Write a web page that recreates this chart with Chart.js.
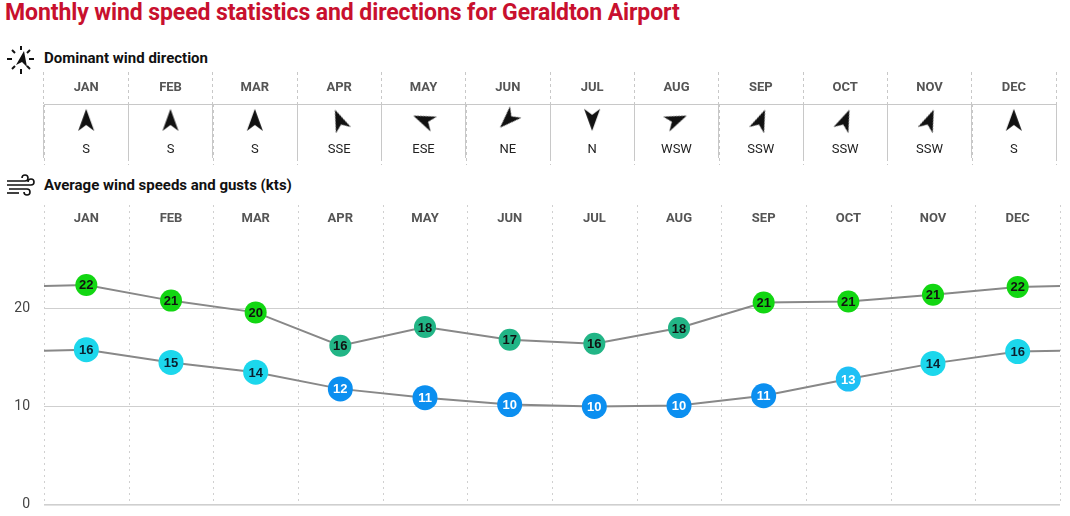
<!DOCTYPE html>
<html><head><meta charset="utf-8">
<script src="https://cdn.jsdelivr.net/npm/chart.js@4"></script>
<style>
body{margin:0;width:1070px;height:516px;background:#fff;font-family:Roboto,"Liberation Sans",sans-serif;position:relative;overflow:hidden}
.t{position:absolute;left:5px;top:-1px;font-size:23px;font-weight:bold;color:#c8102e;font-family:"Roboto",sans-serif;letter-spacing:-0.1px}
.h{position:absolute;left:44px;font-size:15px;font-weight:bold;color:#111}
.ic{position:absolute;left:5px}
canvas{position:absolute;left:0}
</style></head><body>
<div class="t">Monthly wind speed statistics and directions for Geraldton Airport</div>
<svg class="ic" style="top:45px" width="32" height="30" viewBox="0 0 32 30"><g stroke="#111" stroke-width="2"><line x1="2" y1="14" x2="7" y2="14"/><line x1="24" y1="14" x2="29" y2="14"/><line x1="16" y1="1" x2="16" y2="5"/><line x1="16" y1="24" x2="16" y2="29"/><line x1="7" y1="5" x2="10" y2="8"/><line x1="25" y1="5" x2="22" y2="8"/><line x1="7" y1="24" x2="10" y2="21"/><line x1="25" y1="24" x2="22" y2="21"/></g><path d="M19 6 L22 22 L17 17 L11 20 Z" fill="#111"/></svg>
<div class="h" style="top:49px">Dominant wind direction</div>
<svg class="ic" style="top:174px" width="32" height="24" viewBox="0 0 32 24"><g stroke="#111" stroke-width="1.6" fill="none"><path d="M2 7 H20 A3 3 0 1 0 17 4"/><path d="M2 11 H26 A3 3 0 1 0 23 8"/><path d="M4 15 H22 A3 3 0 1 1 19 18"/><path d="M2 19 H14"/></g></svg>
<div class="h" style="top:176px">Average wind speeds and gusts (kts)</div>
<canvas id="dir" style="top:72px" width="1070" height="100"></canvas>
<canvas id="main" style="top:195px" width="1070" height="332"></canvas>
<script>
const months=["JAN","FEB","MAR","APR","MAY","JUN","JUL","AUG","SEP","OCT","NOV","DEC"];
const dirLabels=["S","S","S","SSE","ESE","NE","N","WSW","SSW","SSW","SSW","S"];
const dirDegrees=[180,180,180,157.5,112.5,45,0,247.5,202.5,202.5,202.5,180];
const gustValues=[22.4,20.8,19.6,16.2,18.1,16.8,16.4,18.0,20.6,20.7,21.4,22.2];
const avgValues=[15.8,14.5,13.5,11.8,10.9,10.2,10.0,10.1,11.1,12.8,14.4,15.6];
const yTicks=[0,10,20];

function gustColor(v){return Math.round(v)>=19?'#12d612':'#22b586';}
function avgColor(v){const r=Math.round(v);return r>=14?'#1cd7ec':(r>=13?'#1ec0f5':'#0b8ff0');}
function avgText(v){return Math.round(v)>=14?'#0b2030':'#fff';}
const monthFont='bold 13px Roboto';

const arrow=document.createElement('canvas');arrow.width=26;arrow.height=26;
{const c=arrow.getContext('2d');c.fillStyle='#111';c.beginPath();c.moveTo(13,2);c.lineTo(21,24);c.lineTo(13,18);c.lineTo(5,24);c.closePath();c.fill();}

new Chart(document.getElementById('dir'),{
 type:'scatter',
 data:{labels:months,datasets:[{data:months.map((m,i)=>({x:m,y:20})),pointStyle:arrow,pointRadius:13,pointRotation:dirDegrees.map(d=>(d+180)%360)}]},
 options:{responsive:false,animation:false,layout:{padding:{left:44,right:10,bottom:0,top:0}},
  plugins:{legend:{display:false},tooltip:{enabled:false}},
  scales:{
   x:{type:'category',labels:months,position:'top',offset:true,
      grid:{offset:true,color:'#c8c8c8',tickLength:32,tickBorderDash:[3,3]},
      border:{display:true,color:'#c8c8c8'},
      ticks:{color:'#555',font:{size:13,weight:'bold',family:'Roboto'},padding:-24},
      afterFit:s=>{s.height=32}},
   y:{display:false,min:0,max:68,reverse:true}}
 },
 plugins:[{id:'dl',beforeDatasetsDraw(ch){const c=ch.ctx,a=ch.chartArea,xs=ch.scales.x;c.save();c.strokeStyle='#c8c8c8';c.setLineDash([3,3]);
   for(let i=0;i<=12;i++){const x=Math.round(xs.getPixelForValue(i-0.5))+0.5;c.beginPath();c.moveTo(x,a.top);c.lineTo(x,93);c.stroke();}c.restore();},
  afterDatasetsDraw(ch){const c=ch.ctx,xs=ch.scales.x,ys=ch.scales.y;c.save();c.font='13px Roboto';c.fillStyle='#222';c.textAlign='center';c.textBaseline='middle';
  dirLabels.forEach((t,i)=>c.fillText(t,xs.getPixelForValue(i),ys.getPixelForValue(58)));c.restore();}}]
});

const line=(vals)=>[{x:-1,y:vals[11]},...vals.map((v,i)=>({x:i,y:v})),{x:12,y:vals[0]}];
const rad=(r)=>c=>(c.dataIndex==0||c.dataIndex==13)?0:r;
new Chart(document.getElementById('main'),{
 type:'line',
 data:{datasets:[
  {data:line(gustValues),borderColor:'#888',borderWidth:2,pointRadius:rad(11),pointBorderWidth:0,
   pointBackgroundColor:c=>gustColor(c.raw?c.raw.y:0)},
  {data:line(avgValues),borderColor:'#888',borderWidth:2,pointRadius:rad(12.5),pointBorderWidth:0,
   pointBackgroundColor:c=>avgColor(c.raw?c.raw.y:0)}]},
 options:{responsive:false,animation:false,layout:{padding:{left:0,right:10,bottom:9,top:35}},
  plugins:{legend:{display:false},tooltip:{enabled:false}},
  scales:{
   x:{type:'linear',min:-0.5,max:11.5,display:false},
   y:{min:0,max:28,position:'left',
      afterBuildTicks:s=>{s.ticks=yTicks.map(v=>({value:v}))},
      grid:{color:'#cfcfcf',drawTicks:false},border:{display:false},
      ticks:{color:'#444',font:{size:14,family:'Roboto'},padding:14},
      afterFit:s=>{s.width=44}}
  }},
 plugins:[{id:'vdash',beforeDatasetsDraw(ch){const c=ch.ctx,a=ch.chartArea,xs=ch.scales.x;c.save();c.strokeStyle='#d0d0d0';c.setLineDash([2,4]);c.lineWidth=1;
   for(let i=0;i<=12;i++){const x=Math.round(xs.getPixelForValue(i-0.5))+0.5;c.beginPath();c.moveTo(x,10);c.lineTo(x,a.bottom);c.stroke();}
   c.setLineDash([]);c.strokeStyle='#cfcfcf';c.beginPath();c.moveTo(a.left,a.bottom+0.5);c.lineTo(a.right,a.bottom+0.5);c.stroke();
   c.font=monthFont;c.fillStyle='#555';c.textAlign='center';c.textBaseline='middle';
   months.forEach((m,i)=>c.fillText(m,xs.getPixelForValue(i),24));c.restore();},
  afterDatasetsDraw(ch){const c=ch.ctx;c.save();c.font='bold 13px "Liberation Sans",Arial';c.textAlign='center';c.textBaseline='middle';
   ch.data.datasets.forEach((ds,di)=>{ch.getDatasetMeta(di).data.forEach((p,i)=>{if(i==0||i==13)return;const v=ds.data[i].y;
    c.fillStyle=di==0?'#111':avgText(v);c.fillText(String(Math.round(v)),p.x,p.y+1);});});c.restore();}}]
});
</script>
</body></html>
